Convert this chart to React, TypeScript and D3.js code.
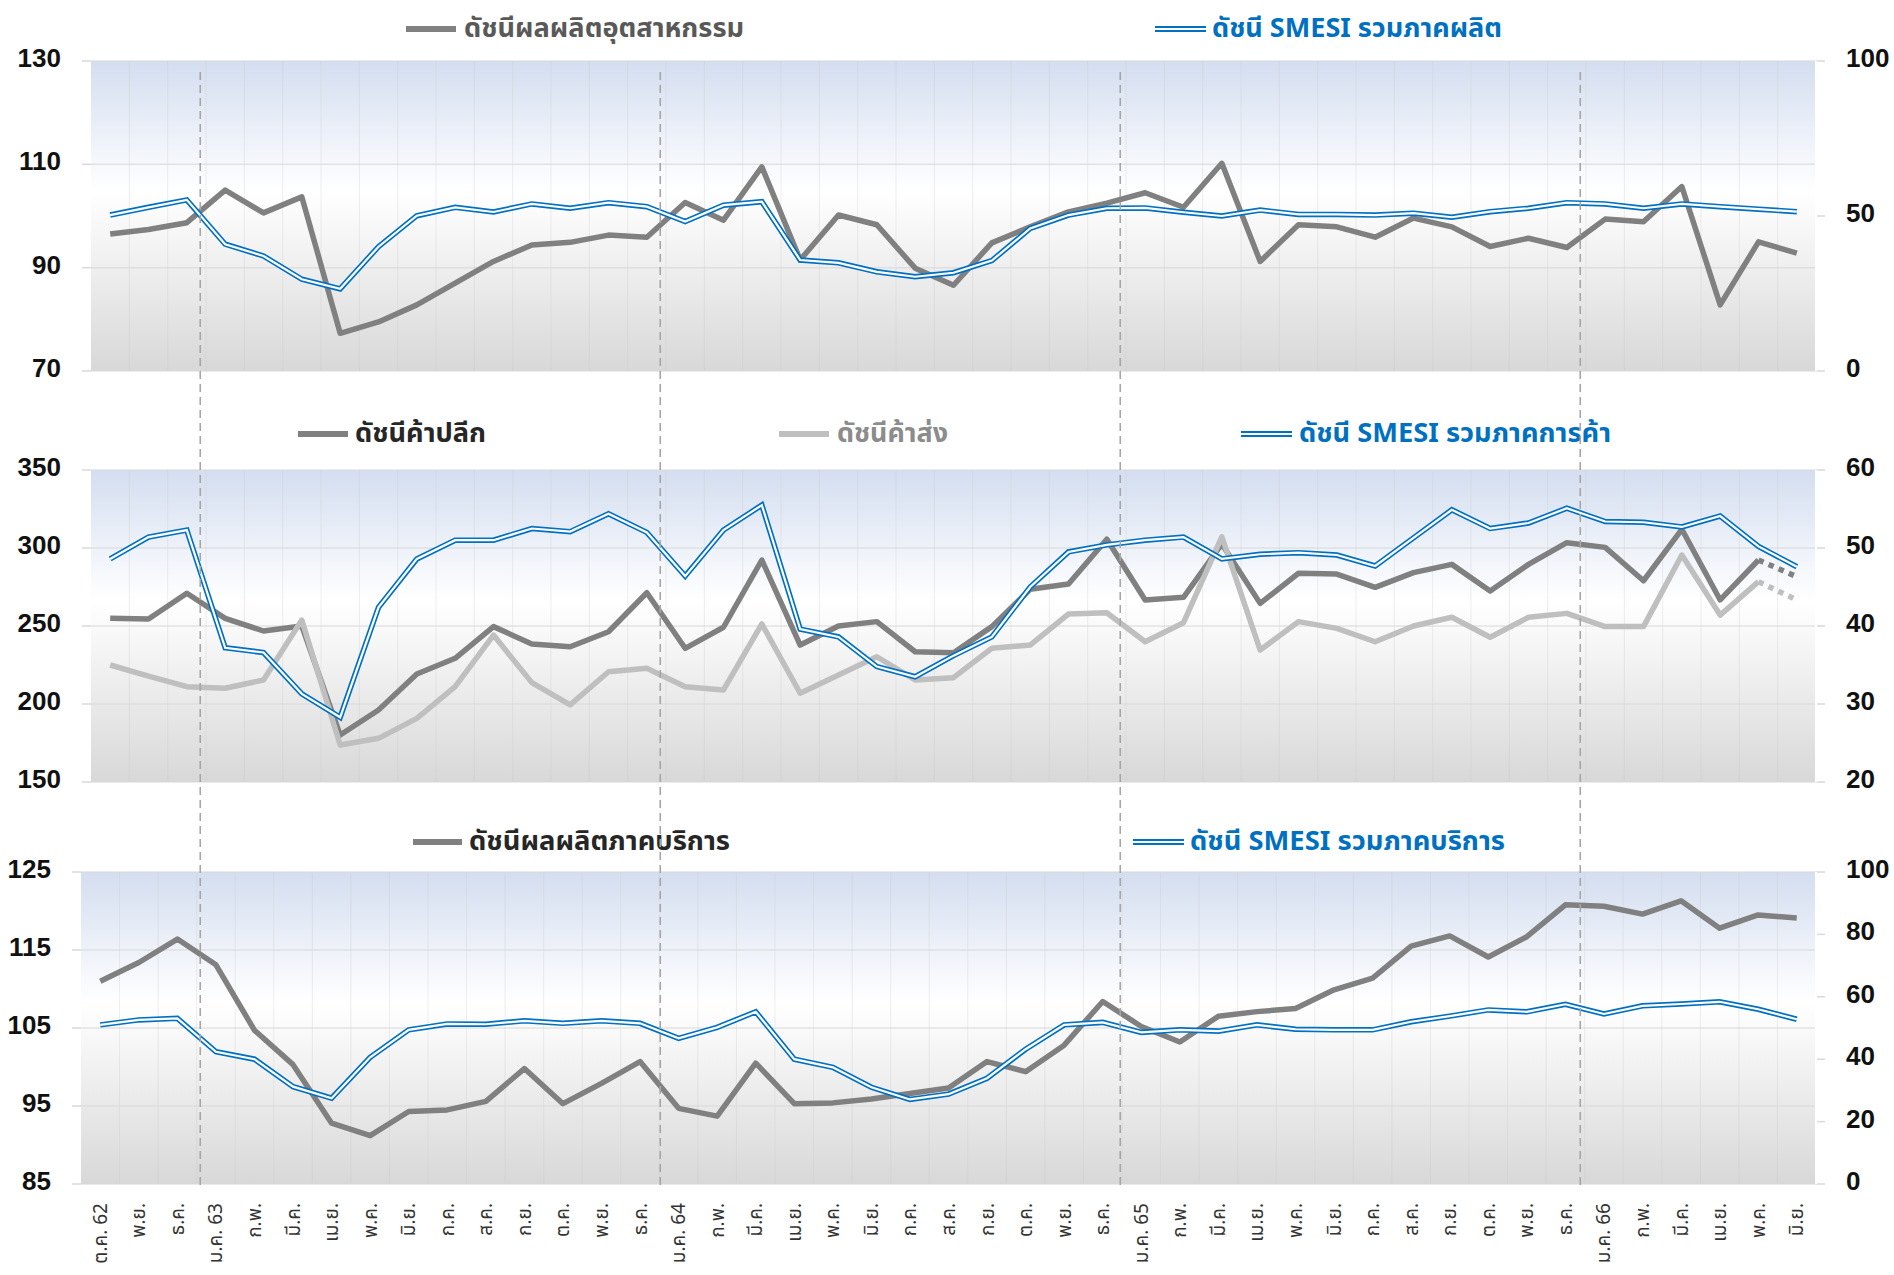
import React from 'react';
import * as d3 from 'd3';

const months = ['ต.ค. 62','พ.ย.','ธ.ค.','ม.ค. 63','ก.พ.','มี.ค.','เม.ย.','พ.ค.','มิ.ย.','ก.ค.','ส.ค.','ก.ย.','ต.ค.','พ.ย.','ธ.ค.','ม.ค. 64','ก.พ.','มี.ค.','เม.ย.','พ.ค.','มิ.ย.','ก.ค.','ส.ค.','ก.ย.','ต.ค.','พ.ย.','ธ.ค.','ม.ค. 65','ก.พ.','มี.ค.','เม.ย.','พ.ค.','มิ.ย.','ก.ค.','ส.ค.','ก.ย.','ต.ค.','พ.ย.','ธ.ค.','ม.ค. 66','ก.พ.','มี.ค.','เม.ย.','พ.ค.','มิ.ย.'];

// Panel 1: industrial production index (left) & SMESI manufacturing (right)
const industrialIndex = [96.5, 97.4, 98.7, 105.0, 100.6, 103.7, 77.3, 79.5, 82.8, 87.0, 91.2, 94.4, 94.9, 96.3, 95.9, 102.6, 99.2, 109.5, 91.5, 100.2, 98.3, 89.9, 86.6, 94.8, 97.9, 100.8, 102.5, 104.5, 101.7, 110.2, 91.2, 98.3, 97.9, 95.9, 99.6, 97.9, 94.1, 95.7, 93.9, 99.4, 98.9, 105.7, 82.8, 95.0, 92.8];
const smesiManufacturing = [50.3, 52.8, 55.2, 40.9, 37.1, 29.6, 26.5, 40.1, 50.1, 52.8, 51.3, 53.9, 52.5, 54.3, 53.0, 48.2, 53.5, 54.6, 35.8, 34.9, 32.0, 30.4, 31.7, 35.6, 46.0, 50.3, 52.5, 52.6, 51.2, 50.0, 51.9, 50.5, 50.5, 50.3, 50.9, 49.6, 51.4, 52.5, 54.3, 53.9, 52.5, 53.9, 53.0, 52.2, 51.4];

// Panel 2: retail, wholesale (left) & SMESI trade (right)
const retailIndex = [254.9, 254.5, 271.0, 254.9, 246.8, 250.0, 180.1, 196.2, 219.2, 229.3, 249.6, 238.5, 236.7, 246.3, 271.3, 235.7, 249.2, 292.3, 237.8, 250.0, 252.8, 233.5, 232.9, 249.6, 273.5, 276.9, 305.6, 266.7, 268.4, 302.6, 264.5, 283.8, 283.3, 274.8, 284.2, 289.5, 272.4, 289.5, 303.4, 300.4, 279.0, 312.0, 266.7, 292.3, 281.6];
const wholesaleIndex = [225.0, 217.9, 211.1, 210.1, 215.4, 253.8, 173.7, 178.0, 190.8, 211.1, 244.2, 213.7, 199.4, 220.7, 222.9, 211.1, 209.0, 251.3, 206.9, 218.6, 230.3, 215.4, 216.9, 235.7, 237.8, 257.7, 258.5, 239.9, 252.1, 307.2, 234.6, 252.8, 248.5, 239.9, 250.0, 255.6, 242.8, 255.6, 258.1, 249.6, 249.6, 295.5, 257.0, 278.4, 266.7];
const smesiTrade = [48.6, 51.4, 52.3, 37.2, 36.6, 31.3, 28.3, 42.4, 48.6, 51.0, 51.0, 52.5, 52.1, 54.4, 52.0, 46.4, 52.3, 55.5, 39.6, 38.6, 34.8, 33.5, 36.2, 38.6, 45.0, 49.5, 50.4, 51.0, 51.4, 48.6, 49.2, 49.4, 49.1, 47.7, 51.3, 54.9, 52.5, 53.2, 55.1, 53.4, 53.3, 52.7, 54.1, 50.2, 47.6];

// Panel 3: services output index (left) & SMESI services (right)
const servicesIndex = [111.0, 113.4, 116.4, 113.1, 104.7, 100.3, 92.8, 91.2, 94.3, 94.5, 95.6, 99.8, 95.3, 97.9, 100.7, 94.7, 93.7, 100.5, 95.3, 95.4, 95.9, 96.6, 97.3, 100.7, 99.4, 102.8, 108.4, 105.2, 103.2, 106.5, 107.1, 107.5, 109.9, 111.4, 115.5, 116.8, 114.1, 116.7, 120.8, 120.6, 119.6, 121.3, 117.8, 119.5, 119.1];
const smesiServices = [51.0, 52.6, 53.1, 42.4, 40.0, 31.2, 27.5, 40.6, 49.4, 51.3, 51.2, 52.3, 51.5, 52.3, 51.5, 46.7, 50.2, 55.2, 40.0, 37.4, 31.0, 27.1, 28.8, 33.9, 43.2, 51.0, 51.8, 48.6, 49.4, 49.0, 51.0, 49.6, 49.4, 49.4, 52.0, 53.8, 55.8, 55.2, 57.6, 54.5, 57.1, 57.7, 58.4, 56.0, 52.8];

const p1LeftTicks = [70, 90, 110, 130];
const p1RightTicks = [0, 50, 100];
const p2LeftTicks = [150, 200, 250, 300, 350];
const p2RightTicks = [20, 30, 40, 50, 60];
const p3LeftTicks = [85, 95, 105, 115, 125];
const p3RightTicks = [0, 20, 40, 60, 80, 100];

const GRAY = '#808080';
const LGRAY = '#BFBFBF';
const BLUE = '#0070C0';
const THAI = "'Noto Sans Thai', 'Noto Sans Thai UI', Loma, Garuda, 'Noto Sans', sans-serif";
const NUM = "'Liberation Sans', Arial, sans-serif";

const idx = months.map((_, i) => i);

type Series = { values: number[]; axis: 'L' | 'R'; kind: 'gray' | 'lgray' | 'blue'; dottedLast?: boolean };
type Legend = { kind: 'gray' | 'lgray' | 'blue'; x1: number; x2: number; y: number; text: string; tx: number; tw: number; color: string };
type Panel = {
  top: number; bottom: number; left: number; right: number;
  lDomain: [number, number]; rDomain: [number, number];
  lTicks: number[]; rTicks: number[]; lLabelX: number;
  series: Series[]; legends: Legend[];
};

const panels: Panel[] = [
  {
    top: 61, bottom: 371, left: 91, right: 1816,
    lDomain: [70, 130], rDomain: [0, 100], lTicks: p1LeftTicks, rTicks: p1RightTicks, lLabelX: 61,
    series: [
      { values: industrialIndex, axis: 'L', kind: 'gray' },
      { values: smesiManufacturing, axis: 'R', kind: 'blue' },
    ],
    legends: [
      { kind: 'gray', x1: 406, x2: 456, y: 29, text: 'ดัชนีผลผลิตอุตสาหกรรม', tx: 464, tw: 280, color: '#595959' },
      { kind: 'blue', x1: 1155, x2: 1206, y: 29, text: 'ดัชนี SMESI รวมภาคผลิต', tx: 1212, tw: 290, color: BLUE },
    ],
  },
  {
    top: 470, bottom: 782, left: 91, right: 1816,
    lDomain: [150, 350], rDomain: [20, 60], lTicks: p2LeftTicks, rTicks: p2RightTicks, lLabelX: 61,
    series: [
      { values: retailIndex, axis: 'L', kind: 'gray', dottedLast: true },
      { values: wholesaleIndex, axis: 'L', kind: 'lgray', dottedLast: true },
      { values: smesiTrade, axis: 'R', kind: 'blue' },
    ],
    legends: [
      { kind: 'gray', x1: 298, x2: 348, y: 434, text: 'ดัชนีค้าปลีก', tx: 355, tw: 131, color: '#262626' },
      { kind: 'lgray', x1: 779, x2: 829, y: 434, text: 'ดัชนีค้าส่ง', tx: 837, tw: 111, color: '#8C8C8C' },
      { kind: 'blue', x1: 1241, x2: 1292, y: 434, text: 'ดัชนี SMESI รวมภาคการค้า', tx: 1299, tw: 312, color: BLUE },
    ],
  },
  {
    top: 872, bottom: 1184, left: 81, right: 1816,
    lDomain: [85, 125], rDomain: [0, 100], lTicks: p3LeftTicks, rTicks: p3RightTicks, lLabelX: 51,
    series: [
      { values: servicesIndex, axis: 'L', kind: 'gray' },
      { values: smesiServices, axis: 'R', kind: 'blue' },
    ],
    legends: [
      { kind: 'gray', x1: 413, x2: 462, y: 842, text: 'ดัชนีผลผลิตภาคบริการ', tx: 469, tw: 261, color: '#262626' },
      { kind: 'blue', x1: 1133, x2: 1184, y: 842, text: 'ดัชนี SMESI รวมภาคบริการ', tx: 1190, tw: 315, color: BLUE },
    ],
  },
];

function LineMarks({ pts, kind, dotted }: { pts: [number, number][]; kind: string; dotted?: boolean }) {
  const gen = d3.line<[number, number]>().x(p => p[0]).y(p => p[1]).curve(d3.curveLinear);
  const d = gen(pts) || '';
  if (kind === 'blue') {
    return (
      <g>
        <path d={d} fill="none" stroke={BLUE} strokeWidth={5.5} strokeLinejoin="miter" strokeMiterlimit={4} />
        <path d={d} fill="none" stroke="#FFFFFF" strokeWidth={2.2} strokeLinejoin="miter" strokeMiterlimit={4} />
      </g>
    );
  }
  const color = kind === 'gray' ? GRAY : LGRAY;
  return (
    <path d={d} fill="none" stroke={color} strokeWidth={5.5} strokeLinejoin="round"
      strokeDasharray={dotted ? '5.5,5.5' : undefined} />
  );
}

function PanelView({ p, pi }: { p: Panel; pi: number }) {
  const x = d3.scalePoint<number>().domain(idx).range([p.left, p.right]).padding(0.5);
  const yL = d3.scaleLinear().domain(p.lDomain).range([p.bottom, p.top]);
  const yR = d3.scaleLinear().domain(p.rDomain).range([p.bottom, p.top]);
  const step = x.step();
  const gid = `bg${pi}`;
  return (
    <g>
      <defs>
        <linearGradient id={gid} x1="0" y1="0" x2="0" y2="1">
          <stop offset="0" stopColor="#D4DEF0" />
          <stop offset="0.42" stopColor="#FFFFFF" />
          <stop offset="0.5" stopColor="#FAFAFA" />
          <stop offset="1" stopColor="#D8D8D8" />
        </linearGradient>
      </defs>
      <rect x={p.left} y={p.top} width={p.right - p.left} height={p.bottom - p.top} fill={`url(#${gid})`} />
      {/* vertical gridlines */}
      {idx.slice(1).map(i => {
        const gx = (x(i) as number) - step / 2;
        return <line key={`v${i}`} x1={gx} x2={gx} y1={p.top} y2={p.bottom} stroke="#C8C8C8" strokeOpacity={0.3} strokeWidth={1} />;
      })}
      {/* horizontal gridlines */}
      {p.lTicks.map(t => (
        <line key={`h${t}`} x1={p.left} x2={p.right} y1={yL(t)} y2={yL(t)} stroke="#D9D9D9" strokeOpacity={0.7} strokeWidth={1.5} />
      ))}
      {/* tick marks */}
      {p.lTicks.map(t => (
        <line key={`lt${t}`} x1={p.left - 9} x2={p.left} y1={yL(t)} y2={yL(t)} stroke="#D9D9D9" strokeWidth={1.5} />
      ))}
      {p.rTicks.map(t => (
        <line key={`rt${t}`} x1={p.right} x2={p.right + 9} y1={yR(t)} y2={yR(t)} stroke="#D9D9D9" strokeWidth={1.5} />
      ))}
      <line x1={p.right} x2={p.right} y1={p.top} y2={p.bottom} stroke="#FFFFFF" strokeWidth={2} />
      {/* tick labels */}
      {p.lTicks.map(t => (
        <text key={`ll${t}`} x={p.lLabelX} y={yL(t) - 3} textAnchor="end" dominantBaseline="central"
          fontFamily={NUM} fontWeight="bold" fontSize={26} fill="#111">{t}</text>
      ))}
      {p.rTicks.map(t => (
        <text key={`rl${t}`} x={1846} y={yR(t) - 3} textAnchor="start" dominantBaseline="central"
          fontFamily={NUM} fontWeight="bold" fontSize={26} fill="#111">{t}</text>
      ))}
      {/* series */}
      {p.series.map((s, si) => {
        const sc = s.axis === 'L' ? yL : yR;
        const pts: [number, number][] = s.values.map((v, i) => [x(i) as number, sc(v)]);
        if (s.dottedLast) {
          return (
            <g key={si}>
              <LineMarks pts={pts.slice(0, pts.length - 1)} kind={s.kind} />
              <LineMarks pts={pts.slice(pts.length - 2)} kind={s.kind} dotted />
            </g>
          );
        }
        return <LineMarks key={si} pts={pts} kind={s.kind} />;
      })}
      {/* legends */}
      {p.legends.map((l, li) => (
        <g key={`lg${li}`}>
          {l.kind === 'blue' ? (
            <g>
              <line x1={l.x1} x2={l.x2} y1={l.y} y2={l.y} stroke={BLUE} strokeWidth={6} />
              <line x1={l.x1} x2={l.x2} y1={l.y} y2={l.y} stroke="#FFFFFF" strokeWidth={2} />
            </g>
          ) : (
            <line x1={l.x1} x2={l.x2} y1={l.y} y2={l.y} stroke={l.kind === 'gray' ? GRAY : LGRAY} strokeWidth={6} />
          )}
          <text x={l.tx} y={l.y + 8} fontFamily={THAI} fontWeight="bold" fontSize={26} fill={l.color}
            textLength={l.tw} lengthAdjust="spacingAndGlyphs">{l.text}</text>
        </g>
      ))}
    </g>
  );
}

export default function App() {
  const p3 = panels[2];
  const xb = d3.scalePoint<number>().domain(idx).range([p3.left, p3.right]).padding(0.5);
  const xt = d3.scalePoint<number>().domain(idx).range([panels[0].left, panels[0].right]).padding(0.5);
  const yearStarts = idx.filter(i => months[i].startsWith('ม.ค.'));
  return (
    <svg width={1894} height={1275} style={{ position: 'absolute', left: 0, top: 0, display: 'block', background: '#fff' }}
      xmlns="http://www.w3.org/2000/svg">
      <rect x={0} y={0} width={1894} height={1275} fill="#FFFFFF" />
      {panels.map((p, pi) => <PanelView key={pi} p={p} pi={pi} />)}
      {/* x-axis labels */}
      {idx.map(i => (
        <text key={`xl${i}`} transform={`translate(${(xb(i) as number) + 1},${1203}) rotate(-90)`} textAnchor="end"
          dominantBaseline="central" fontFamily={THAI} fontSize={19} fill="#333">{months[i]}</text>
      ))}
      {/* year separators */}
      {yearStarts.map(i => {
        const gx = (xt(i - 1) as number) + xt.step() * 0.35;
        return <line key={`ys${i}`} x1={gx} x2={gx} y1={72} y2={1186} stroke="#A6A6A6" strokeWidth={1.6} strokeDasharray="8,5" />;
      })}
    </svg>
  );
}
